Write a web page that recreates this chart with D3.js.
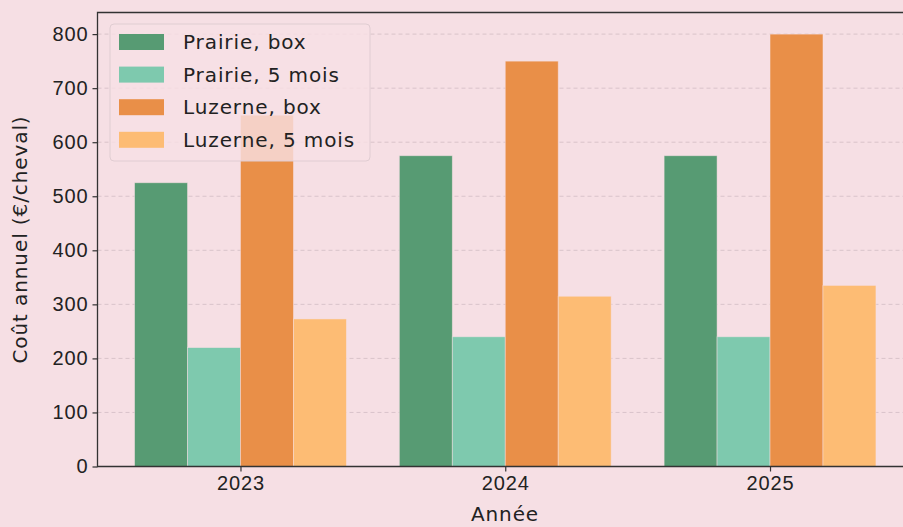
<!DOCTYPE html>
<html>
<head>
<meta charset="utf-8">
<script src="https://cdn.jsdelivr.net/npm/d3@7"></script>
<style>
  body { margin: 0; background: #f6dfe4; }
  svg { display: block; font-family: "DejaVu Sans", sans-serif; }
  text { letter-spacing: 0.9px; }
</style>
</head>
<body>
<svg id="chart"></svg>
<script>
// data
var years = ["2023", "2024", "2025"];
var seriesNames = ["Prairie, box", "Prairie, 5 mois", "Luzerne, box", "Luzerne, 5 mois"];
var prairieBox = [525, 575, 575];
var prairie5 = [220, 240, 240];
var luzerneBox = [650, 750, 800];
var luzerne5 = [273, 315, 335];
var yTicks = [0, 100, 200, 300, 400, 500, 600, 700, 800];

var seriesValues = [prairieBox, prairie5, luzerneBox, luzerne5];
var colors = ["#579b73", "#7ec9ae", "#e98f48", "#fdbc74"];

var W = 903, H = 527;
var margin = { top: 12.5, left: 97.5, bottom: 466.5, right: 913 };

var svg = d3.select("#chart").attr("width", W).attr("height", H);

svg.append("rect").attr("width", W).attr("height", H).attr("fill", "#f6dfe4");

// scales: groups at 0,1,2 ; bars 0.2 wide
var x = d3.scaleLinear().domain([-0.54, 2.54]).range([margin.left, margin.right]);
var y = d3.scaleLinear().domain([0, 840]).range([margin.bottom, margin.top]);

// grid
svg.append("g")
  .selectAll("line")
  .data(yTicks)
  .enter()
  .append("line")
  .attr("x1", margin.left)
  .attr("x2", margin.right)
  .attr("y1", function (d) { return y(d); })
  .attr("y2", function (d) { return y(d); })
  .attr("stroke", "#d9c3ca")
  .attr("stroke-width", 1)
  .attr("stroke-dasharray", "4,3");

// bars
var barW = 0.2;
seriesValues.forEach(function (vals, s) {
  svg.append("g")
    .selectAll("rect")
    .data(vals)
    .enter()
    .append("rect")
    .attr("x", function (d, i) { return x(i - 0.4 + s * barW); })
    .attr("width", x(barW) - x(0))
    .attr("y", function (d) { return y(d); })
    .attr("height", function (d) { return y(0) - y(d); })
    .attr("fill", colors[s])
    .attr("stroke", "#f6dfe4")
    .attr("stroke-opacity", 0.6)
    .attr("stroke-width", 0.8);
});

// axes
var yAxis = svg.append("g")
  .attr("transform", "translate(" + margin.left + ",0)")
  .call(d3.axisLeft(y).tickValues(yTicks).tickSize(5).tickPadding(4));

var xAxis = svg.append("g")
  .attr("transform", "translate(0," + margin.bottom + ")")
  .call(d3.axisBottom(x).tickValues([0, 1, 2]).tickFormat(function (d) { return years[d]; }).tickSize(5).tickPadding(4));

[yAxis, xAxis].forEach(function (a) {
  a.select(".domain").remove();
  a.selectAll("line").attr("stroke", "#333").attr("stroke-width", 1.2);
  a.selectAll("text").attr("fill", "#222").style("font-size", "20px");
});

// spines
svg.append("path")
  .attr("d", "M" + margin.right + "," + margin.top + "H" + margin.left + "V" + margin.bottom + "H" + margin.right)
  .attr("fill", "none")
  .attr("stroke", "#333")
  .attr("stroke-width", 1.3);

// axis titles
svg.append("text")
  .attr("x", 505)
  .attr("y", 521)
  .attr("text-anchor", "middle")
  .attr("fill", "#222")
  .style("font-size", "20px")
  .text("Année");

svg.append("text")
  .attr("transform", "translate(27," + ((margin.top + margin.bottom) / 2) + ") rotate(-90)")
  .attr("text-anchor", "middle")
  .attr("fill", "#222")
  .style("font-size", "20px")
  .text("Coût annuel (€/cheval)");

// legend
var lg = svg.append("g").attr("transform", "translate(110,24)");
lg.append("rect")
  .attr("width", 260)
  .attr("height", 137)
  .attr("rx", 4)
  .attr("fill", "#f7e0e5")
  .attr("fill-opacity", 0.8)
  .attr("stroke", "#e0cdd2")
  .attr("stroke-width", 1);

seriesNames.forEach(function (name, i) {
  var row = lg.append("g").attr("transform", "translate(0," + (18 + i * 32.6) + ")");
  row.append("rect")
    .attr("x", 9)
    .attr("y", -8)
    .attr("width", 45)
    .attr("height", 16)
    .attr("fill", colors[i]);
  row.append("text")
    .attr("x", 73)
    .attr("y", 7)
    .attr("fill", "#222")
    .style("font-size", "20px")
    .text(name);
});
</script>
</body>
</html>
